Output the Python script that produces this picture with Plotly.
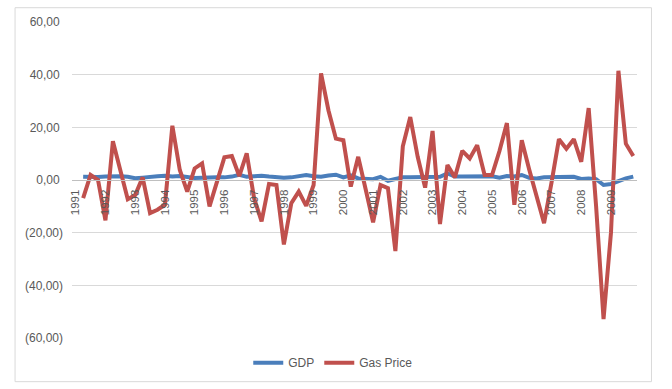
import plotly.graph_objects as go

years = list(range(1991, 2010))
quarters = [f"{y}Q{q}" for y in years for q in range(1, 5)]
year_labels = [str(y) for y in years]

gdp = [
    None, 1.2, 1.0, 1.1,
    1.3, 1.5, 1.4, 1.2,
    0.7, 0.9, 1.0, 1.4,
    1.6, 1.3, 1.5, 1.1,
    0.8, 0.9, 1.1, 1.0,
    1.0, 1.3, 2.0, 1.2,
    1.4, 1.6, 1.3, 1.0,
    0.9, 1.0, 1.6, 1.9,
    1.4, 1.2, 1.7, 2.0,
    1.0, 1.8, 0.6, 0.5,
    0.3, 1.2, -0.3, 0.4,
    1.0, 1.0, 1.0, 0.9,
    0.9, 1.2, 2.5, 1.3,
    1.3, 1.3, 1.2, 1.3,
    1.4, 0.9, 1.5, 1.3,
    1.9, 0.8, 0.6, 1.0,
    1.1, 1.3, 1.4, 1.2,
    0.4, 0.6, 0.3, -1.9,
    -1.5, -0.3, 0.6, 1.3,
]

gas_price = [
    None, -6.9, 1.9, 0.0,
    -15.3, 14.7, 3.8, -7.3,
    -5.7, 1.0, -12.6, -11.3,
    -9.4, 20.6, 3.8, -4.4,
    4.4, 6.3, -10.0, -1.0,
    8.6, 9.1, 1.5, 10.1,
    -7.0, -15.7, -1.5, -1.9,
    -24.5, -8.8, -4.4, -9.8,
    -1.9, 40.5, 26.4, 15.7,
    15.1, -2.5, 8.8, -3.5,
    -16.1, -1.9, -3.1, -27.0,
    12.8, 23.9, 8.8, -2.9,
    18.6, -16.7, 5.7, 1.0,
    11.1, 8.2, 13.2, 1.9,
    1.9, 11.0, 21.6, -9.4,
    15.1, 4.0, -6.0, -16.4,
    -1.0, 15.5, 11.9, 15.5,
    6.9, 27.3, -10.0, -52.8,
    -20.0, 41.5, 13.8, 9.1,
]

y_ticks = [60, 40, 20, 0, -20, -40, -60]
y_ticktext = ["60,00\u00a0", "40,00\u00a0", "20,00\u00a0", "0,00\u00a0",
              "(20,00)", "(40,00)", "(60,00)"]

fig = go.Figure()
fig.add_trace(go.Scatter(x=quarters, y=gdp, name="GDP", mode="lines",
                         line=dict(color="#4a7ebb", width=4)))
fig.add_trace(go.Scatter(x=quarters, y=gas_price, name="Gas Price", mode="lines",
                         line=dict(color="#c0504d", width=4)))

fig.update_layout(
    width=672, height=389,
    margin=dict(l=72, r=34.5, t=21.7, b=49),
    paper_bgcolor="white", plot_bgcolor="white",
    font=dict(family="Liberation Sans, Arial, sans-serif", color="#595959", size=12),
    showlegend=True,
    legend=dict(orientation="h", x=0.4624, xanchor="center", y=-0.0785,
                yanchor="middle", font=dict(size=12, color="#595959"),
                bgcolor="rgba(0,0,0,0)"),
    xaxis=dict(type="category", range=[-0.5, 75.5], anchor="free", position=0.5,
               tickvals=quarters[::4], ticktext=year_labels, tickangle=-90,
               showgrid=False, showline=True, linecolor="#bfbfbf", linewidth=1,
               ticks="", tickfont=dict(size=11.5, color="#595959"),
               ticklabelstandoff=4, zeroline=False),
    yaxis=dict(range=[-60, 60], tickvals=y_ticks, ticktext=y_ticktext,
               showgrid=True, gridcolor="#d9d9d9", gridwidth=1, zeroline=False,
               ticks="", tickfont=dict(size=12, color="#595959"),
               ticklabelstandoff=8),
    shapes=[dict(type="rect", xref="paper", yref="paper",
                 x0=-0.1008, x1=1.0256, y0=-0.1382, y1=1.0452,
                 line=dict(color="#d9d9d9", width=1), layer="below")],
)

fig.write_html("out.html", config={"displayModeBar": False},
               post_script="document.body.style.margin='0';document.body.style.overflow='hidden';")
